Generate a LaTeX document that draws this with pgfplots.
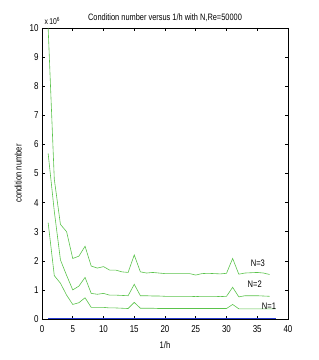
\documentclass[border=0pt]{standalone}
\usepackage{pgfplots}
\pgfplotsset{compat=1.18}
\usepackage{fontspec}
\setmainfont[FakeStretch=0.8]{Liberation Sans}
\usetikzlibrary{calc}
\definecolor{lg}{RGB}{90,195,75}
\definecolor{lb}{RGB}{40,60,210}
\begin{document}
\begin{tikzpicture}
\begin{axis}[
  scale only axis, width=246bp, height=291bp,
  xmin=0, xmax=40, ymin=0, ymax=10,
  xtick={0,5,...,40}, ytick={0,1,...,10},
  tick align=inside, major tick length=3bp,
  axis line style={black, line width=0.6pt},
  every tick/.style={black, line width=0.5pt},
  /pgf/number format/assume math mode=true,
  tick label style={font=\fontsize{10}{11}\selectfont},
  xticklabel style={yshift=-3bp},
  xlabel={1/h}, ylabel={condition number},
  label style={font=\fontsize{9.5}{10}\selectfont},
  xlabel style={yshift=-2bp},
  ylabel style={yshift=1bp},
  title={Condition number versus 1/h with N,Re=50000},
  title style={font=\fontsize{9.3}{10}\selectfont, yshift=-3bp},
  clip=false,
]
\addplot[lb, line width=0.7pt] coordinates {(1,0.01) (38,0.01)};
% N=3
\addplot[lg, line width=0.6pt] coordinates {
(1,10) (2,4.8) (3,3.25) (4,3.0) (5,2.08) (6,2.16) (7,2.5) (8,1.82) (9,1.75) (10,1.8)
(11,1.68) (12,1.68) (13,1.62) (14,1.6) (15,2.2) (16,1.62) (17,1.58) (18,1.6) (19,1.58) (20,1.56)
(21,1.56) (22,1.56) (23,1.56) (24,1.56) (25,1.51) (26,1.56) (27,1.57) (28,1.56) (29,1.55) (30,1.57)
(31,2.08) (32,1.54) (33,1.58) (34,1.59) (35,1.6) (36,1.58) (37,1.53)};
% N=2
\addplot[lg, line width=0.6pt] coordinates {
(1,5.69) (2,3.7) (3,2.03) (4,1.5) (5,1.0) (6,1.13) (7,1.43) (8,0.88) (9,0.85) (10,0.88)
(11,0.82) (12,0.82) (13,0.81) (14,0.8) (15,1.19) (16,0.8) (17,0.8) (18,0.79) (19,0.79) (20,0.78)
(21,0.78) (22,0.78) (23,0.78) (24,0.78) (25,0.77) (26,0.78) (27,0.78) (28,0.78) (29,0.77) (30,0.78)
(31,1.09) (32,0.76) (33,0.8) (34,0.8) (35,0.8) (36,0.79) (37,0.78)};
% N=1
\addplot[lg, line width=0.6pt] coordinates {
(1,3.31) (2,1.49) (3,1.23) (4,0.82) (5,0.5) (6,0.56) (7,0.73) (8,0.4) (9,0.4) (10,0.4)
(11,0.38) (12,0.38) (13,0.37) (14,0.36) (15,0.57) (16,0.37) (17,0.37) (18,0.37) (19,0.36) (20,0.36)
(21,0.36) (22,0.36) (23,0.36) (24,0.36) (25,0.36) (26,0.36) (27,0.36) (28,0.36) (29,0.36) (30,0.36)
(31,0.5) (32,0.35) (33,0.35) (34,0.35) (35,0.35) (36,0.35) (37,0.35) (38,0.35)};
\node[font=\fontsize{9.5}{10}\selectfont] at (axis cs:35.1,1.93) {N=3};
\node[font=\fontsize{9.5}{10}\selectfont] at (axis cs:34.6,1.19) {N=2};
\node[font=\fontsize{9.5}{10}\selectfont] at (axis cs:36.9,0.45) {N=1};
\node[font=\fontsize{8.5}{9}\selectfont, anchor=south west, xshift=-1bp] at (rel axis cs:0,1) {x\,10$^{\mathrm{6}}$};
\end{axis}
\pgfresetboundingbox
\path ($(current axis.south west)+(-42bp,-41bp)$) rectangle ($(current axis.north east)+(31bp,28bp)$);
\end{tikzpicture}
\end{document}
